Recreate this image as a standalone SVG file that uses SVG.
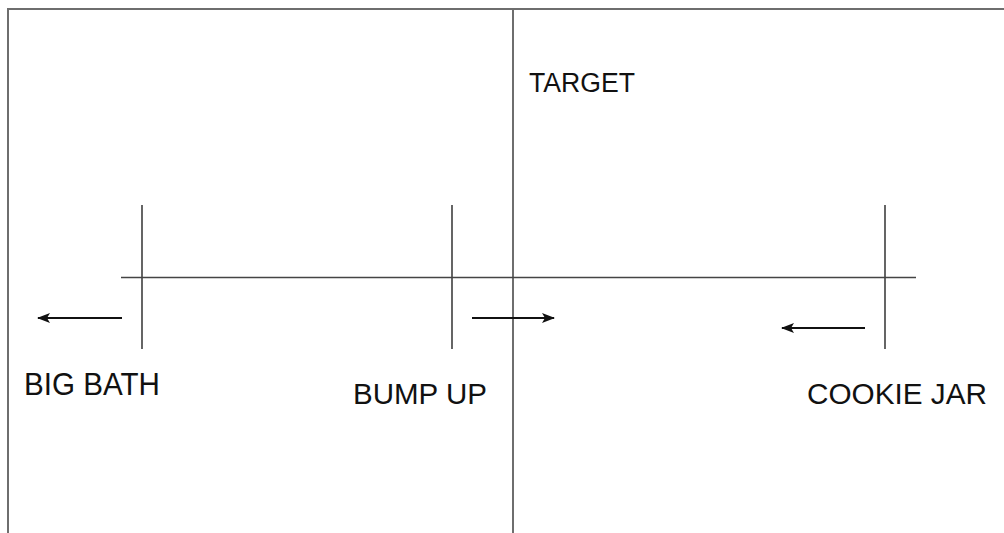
<svg xmlns="http://www.w3.org/2000/svg" width="1004" height="533" viewBox="0 0 1004 533">
<style>
.frame{stroke:#6e6e6e;stroke-width:2;fill:none}
.axis{stroke:#444;stroke-width:1.6;fill:none}
.tick{stroke:#555;stroke-width:1.8;fill:none}
.arrow{stroke:#111;stroke-width:2;fill:none;marker-end:url(#ah)}
text{font-family:"Liberation Sans",Arial,sans-serif;fill:#111}
</style>
<defs>
<marker id="ah" viewBox="0 0 13 10" refX="12" refY="5" markerWidth="13" markerHeight="10" markerUnits="userSpaceOnUse" orient="auto">
<path d="M0,0 L13,5 L0,10 L3,5 Z" fill="#111"/>
</marker>
</defs>
<rect width="1004" height="533" fill="#fff"/>
<g id="frame">
<path class="frame" d="M8,533 V9 H1004"/>
</g>
<g id="target">
<line class="frame" x1="513" y1="9" x2="513" y2="533"/>
<text x="529" y="92" font-size="27" textLength="106" lengthAdjust="spacingAndGlyphs">TARGET</text>
</g>
<g id="big-bath">
<line class="tick" x1="142" y1="205" x2="142" y2="349"/>
<text x="24" y="395" font-size="31" textLength="136" lengthAdjust="spacingAndGlyphs">BIG BATH</text>
</g>
<g id="bump-up">
<line class="tick" x1="452" y1="205" x2="452" y2="349"/>
<text x="353" y="404" font-size="30" textLength="134" lengthAdjust="spacingAndGlyphs">BUMP UP</text>
</g>
<g id="cookie-jar">
<line class="tick" x1="885" y1="205" x2="885" y2="349"/>
<text x="807" y="404" font-size="30" textLength="180" lengthAdjust="spacingAndGlyphs">COOKIE JAR</text>
</g>
<g id="connectors">
<line class="axis" x1="121" y1="277.5" x2="916" y2="277.5"/>
<line class="arrow" x1="122" y1="318" x2="38" y2="318"/>
<line class="arrow" x1="472" y1="318" x2="554" y2="318"/>
<line class="arrow" x1="865" y1="328" x2="782" y2="328"/>
</g>
</svg>
